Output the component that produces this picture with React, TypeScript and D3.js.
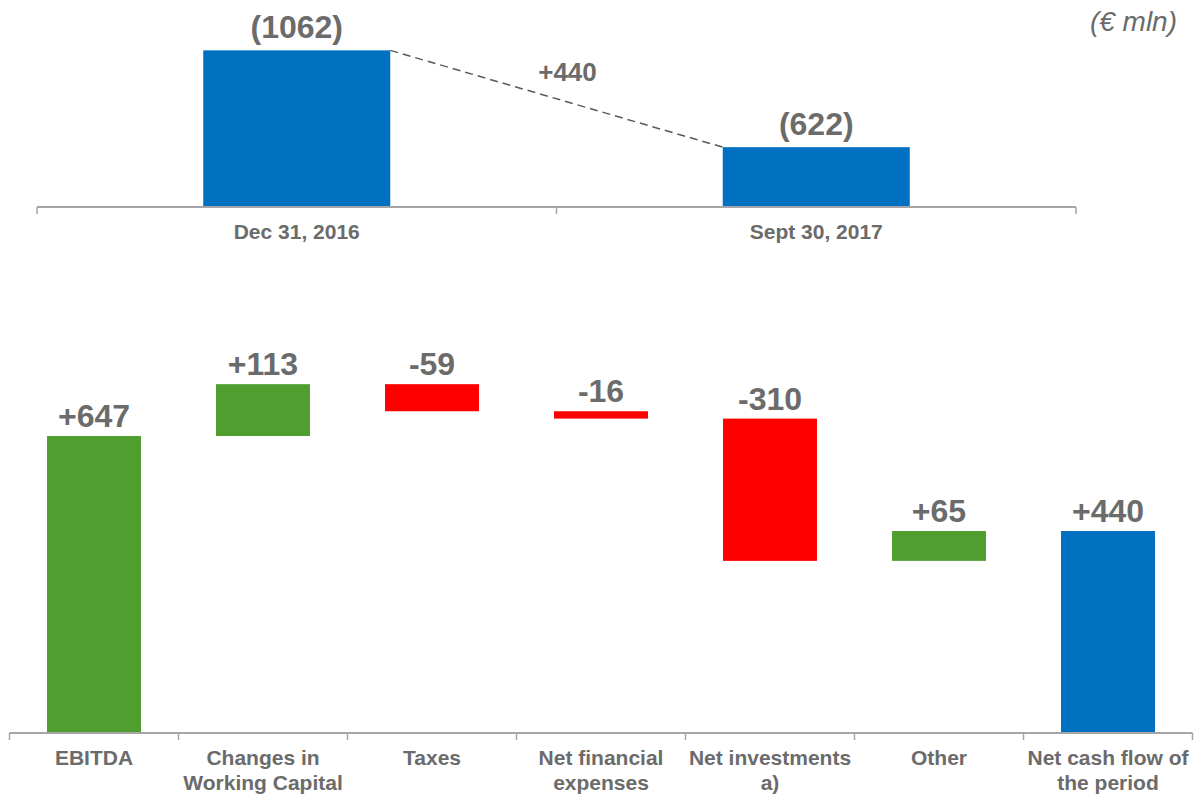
import React from "react";
import * as d3 from "d3";

const W = 1194;
const H = 795;

// Top chart: net debt
const topCategories = ["Dec 31, 2016", "Sept 30, 2017"];
const topValues = [1062, 622];
const topLabels = ["(1062)", "(622)"];
const topDelta = "+440";
const unitLabel = "(€ mln)";

// Bottom chart: cash flow waterfall
const wfCategories = [
  ["EBITDA"],
  ["Changes in", "Working Capital"],
  ["Taxes"],
  ["Net financial", "expenses"],
  ["Net investments", "a)"],
  ["Other"],
  ["Net cash flow of", "the period"],
];
const wfValues = [647, 113, -59, -16, -310, 65, 440];
const wfLabels = ["+647", "+113", "-59", "-16", "-310", "+65", "+440"];
const wfIsTotal = [false, false, false, false, false, false, true];

const BLUE = "#0070C0";
const GREEN = "#509E2F";
const RED = "#FF0000";
const TEXT = "#6B6B6B";
const AXIS = "#A6A6A6";
const FONT = "'Liberation Sans', Arial, sans-serif";

export default function App() {
  // top chart scales
  const xTop = d3.scaleBand<string>().domain(topCategories).range([37, 1076]).paddingInner(0.64).paddingOuter(0.32);
  const topBand = d3.scaleBand<string>().domain(topCategories).range([37, 1076]);
  const yTop = d3.scaleLinear().domain([350, 1200]).range([207, 20]);

  // bottom chart scales
  const names = wfCategories.map((c) => c.join(" "));
  const xB = d3.scaleBand<string>().domain(names).range([9.5, 1192.5]);
  const barW = xB.bandwidth() * 0.556;
  const yB = d3.scaleLinear().domain([0, 800]).range([733, 365.8]);

  // compute waterfall
  let run = 0;
  const steps = wfValues.map((v, i) => {
    if (wfIsTotal[i]) {
      const s = { start: 0, end: v };
      run = v;
      return s;
    }
    const s = { start: run, end: run + v };
    run += v;
    return s;
  });

  const x0 = xTop(topCategories[0])! + xTop.bandwidth();
  const y0 = yTop(topValues[0]);
  const x1 = xTop(topCategories[1])!;
  const y1 = yTop(topValues[1]);

  return (
    <svg width={W} height={H} style={{ position: "absolute", left: 0, top: 0, background: "#fff" }} fontFamily={FONT}>
      {/* unit label */}
      <text x={1177} y={31} textAnchor="end" fontSize={28} fontStyle="italic" fill={TEXT}>
        {unitLabel}
      </text>

      {/* top chart bars */}
      {topCategories.map((c, i) => (
        <rect key={c} x={xTop(c)} y={yTop(topValues[i])} width={xTop.bandwidth()} height={yTop.range()[0] - yTop(topValues[i])} fill={BLUE} />
      ))}
      {topCategories.map((c, i) => (
        <text key={c + "l"} x={xTop(c)! + xTop.bandwidth() / 2} y={yTop(topValues[i]) - 12} textAnchor="middle" fontSize={32} fontWeight="bold" fill={TEXT}>
          {topLabels[i]}
        </text>
      ))}
      <line x1={x0} y1={y0} x2={x1} y2={y1} stroke="#595959" strokeWidth={1.5} strokeDasharray="8,5" />
      <text x={(x0 + x1) / 2 + 11} y={81} textAnchor="middle" fontSize={26} fontWeight="bold" fill={TEXT}>
        {topDelta}
      </text>
      {/* top axis */}
      <line x1={37} y1={207} x2={1076} y2={207} stroke={AXIS} strokeWidth={2} />
      {[...topCategories.map((c) => topBand(c)!), 1076].map((t, i) => (
        <line key={"tt" + i} x1={t} y1={207} x2={t} y2={214} stroke={AXIS} strokeWidth={1.5} />
      ))}
      {topCategories.map((c) => (
        <text key={c + "c"} x={topBand(c)! + topBand.bandwidth() / 2} y={239} textAnchor="middle" fontSize={21} fontWeight="bold" fill={TEXT}>
          {c}
        </text>
      ))}

      {/* waterfall bars */}
      {names.map((n, i) => {
        const s = steps[i];
        const top = Math.max(s.start, s.end);
        const bot = Math.min(s.start, s.end);
        const fill = wfIsTotal[i] ? BLUE : wfValues[i] >= 0 ? GREEN : RED;
        const cx = xB(n)! + xB.bandwidth() / 2;
        return (
          <g key={n}>
            <rect x={cx - barW / 2} y={yB(top)} width={barW} height={yB(bot) - yB(top)} fill={fill} />
            <text x={cx} y={yB(top) - 9} textAnchor="middle" fontSize={32} fontWeight="bold" fill={TEXT}>
              {wfLabels[i]}
            </text>
          </g>
        );
      })}
      {/* bottom axis */}
      <line x1={9.5} y1={733} x2={1192.5} y2={733} stroke={AXIS} strokeWidth={2} />
      {[...names.map((n) => xB(n)!), 1192.5].map((t, i) => (
        <line key={"bt" + i} x1={t} y1={733} x2={t} y2={740} stroke={AXIS} strokeWidth={1.5} />
      ))}
      {wfCategories.map((lines, i) => (
        <text key={"bc" + i} x={xB(names[i])! + xB.bandwidth() / 2} y={765} textAnchor="middle" fontSize={21} fontWeight="bold" fill={TEXT}>
          {lines.map((l, j) => (
            <tspan key={j} x={xB(names[i])! + xB.bandwidth() / 2} dy={j === 0 ? 0 : 25}>
              {l}
            </tspan>
          ))}
        </text>
      ))}
    </svg>
  );
}
